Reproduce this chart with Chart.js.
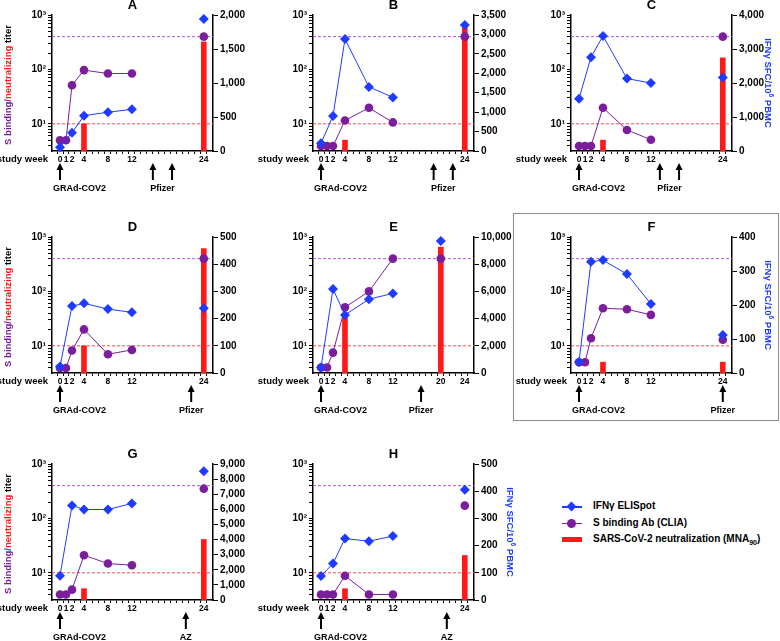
<!DOCTYPE html>
<html>
<head>
<meta charset="utf-8">
<script src="https://cdn.jsdelivr.net/npm/chart.js@4.4.1/dist/chart.umd.min.js"></script>
<style>
  body { margin: 0; background: #fff; }
  #figure { position: relative; width: 780px; height: 641px; overflow: hidden;
            font-family: 'Liberation Sans', Arial, sans-serif; }
  #figure canvas { position: absolute; }
  #boxF { position: absolute; left: 513px; top: 213px; width: 264px; height: 206px;
          border: 1px solid #8c8c8c; }
  #legend { position: absolute; left: 560px; top: 498px; font-weight: bold; font-size: 10px; color: #000; }
  #legend .row { position: relative; height: 16.5px; line-height: 16.5px; padding-left: 33px; white-space: nowrap; }
  #legend .sw { position: absolute; left: 2px; top: 8px; width: 20px; height: 1.5px; }
  #legend .mark { position: absolute; left: 6px; top: -3.5px; width: 7px; height: 7px; }
  #legend sub { font-size: 7px; }
</style>
</head>
<body>
<div id="figure">
  <div id="boxF"></div>
  <div id="legend">
    <div class="row"><span class="sw" style="background:#1f3bff"><span class="mark" style="background:#1f3bff;transform:rotate(45deg)"></span></span>IFNγ ELISpot</div>
    <div class="row"><span class="sw" style="background:#7b1e9c"><span class="mark" style="background:#7b1e9c;border-radius:50%;left:5px;top:-4px;width:9px;height:9px"></span></span>S binding Ab (CLIA)</div>
    <div class="row"><span class="sw" style="background:#ff1a1a;height:5px;top:6px"></span>SARS-CoV-2 neutralization (MNA<sub>90</sub>)</div>
  </div>
</div>
<script>
// Panel letters and study weeks
const panelLetters = ['A', 'B', 'C', 'D', 'E', 'F', 'G', 'H'];
const bindingWeeks = [0, 1, 2, 4, 8, 12, 24];
const bindingWeeksE = [0, 1, 2, 4, 8, 12, 20];
const ifnWeeks = [0, 2, 4, 8, 12, 24];
const ifnWeeksE = [0, 2, 4, 8, 12, 20];
const neutWeeks = [4, 24];
const neutWeeksE = [4, 20];
const weekLabels = [0, 1, 2, 4, 8, 12, 24];
const weekLabelsE = [0, 1, 2, 4, 8, 12, 20, 24];

// S binding Ab titers (left, log axis)
const bindingA = [5, 5, 51, 97, 84, 84, 400];
const bindingB = [3.9, 3.9, 3.9, 11.5, 19.7, 10.6, 400];
const bindingC = [3.9, 3.9, 3.9, 19.7, 7.7, 5.1, 400];
const bindingD = [3.9, 3.9, 8.2, 20, 7, 8.4, 400];
const bindingE = [4, 4, 7.5, 51, 100, 400, 400];
const bindingF = [5, 5, 13.8, 49, 47, 37, 12.9];
const bindingG = [4, 4, 4.9, 21, 14.8, 13.8, 352];
const bindingH = [4, 4, 4, 8.8, 4, 4, 172];

// IFNγ ELISpot, SFC/10^6 PBMC (right axis)
const ifnA = [54, 270, 520, 570, 613, 1940];
const ifnB = [200, 900, 2880, 1650, 1380, 3240];
const ifnC = [1540, 2760, 3385, 2130, 2000, 2160];
const ifnD = [24, 246, 256, 235, 223, 238];
const ifnE = [400, 6170, 4270, 5430, 5850, 9700];
const ifnF = [32, 327, 332, 291, 203, 112];
const ifnG = [1600, 6250, 5990, 5990, 6390, 8515];
const ifnH = [88, 134, 226, 216, 235, 405];

// Neutralization MNA90 titers (bars, left axis)
const neutA = [10, 320];
const neutB = [5, 610];
const neutC = [5, 163];
const neutD = [10, 612];
const neutE = [35, 650];
const neutF = [5, 5];
const neutG = [5.1, 41];
const neutH = [5.1, 20.8];

// Right axis ranges
const ifnAxisMax = [2000, 3500, 4000, 500, 10000, 400, 9000, 500];
const ifnAxisStep = [500, 500, 1000, 100, 1000, 100, 1000, 100];

// Booster doses
const boosterNames = ['Pfizer', 'Pfizer', 'Pfizer', 'Pfizer', 'Pfizer', 'Pfizer', 'AZ', 'AZ'];
const boosterWeeks = [[15.5, 18.7], [18.8, 22], [13.5, 16.7], [21.9], [16.7], [24], [21], [21]];

// Reference lines
const bindingULOQ = 400;
const neutCutoff = 10;

const allBinding = [bindingA, bindingB, bindingC, bindingD, bindingE, bindingF, bindingG, bindingH];
const allIfn = [ifnA, ifnB, ifnC, ifnD, ifnE, ifnF, ifnG, ifnH];
const allNeut = [neutA, neutB, neutC, neutD, neutE, neutF, neutG, neutH];

const BLUE = '#1f3bff';
const PURPLE = '#7b1e9c';
const RED = '#ff1a1a';
const FONT = "'Liberation Sans', Arial, sans-serif";

// Page layout of the grid
const colLeft = [0, 255, 512], colWidth = [258, 262, 268];
const rowTop = [0, 210, 420], rowHeight = [210, 210, 221];
const plotLeft = [52, 313, 571], plotTop = [15, 237, 464];
const PLOT_W = 161, PLOT_H = 136;

/**
 * Draw a dashed horizontal line across the plot area
 */
function drawDashed(ctx, area, y, color) {
    ctx.save();
    ctx.strokeStyle = color;
    ctx.lineWidth = 1;
    ctx.setLineDash([3, 2]);
    ctx.beginPath();
    ctx.moveTo(area.left, y);
    ctx.lineTo(area.right, y);
    ctx.stroke();
    ctx.restore();
}

/**
 * Draw an upward arrow marking a vaccine dose
 */
function drawArrow(ctx, x, top, bottom) {
    ctx.save();
    ctx.strokeStyle = '#000';
    ctx.fillStyle = '#000';
    ctx.lineWidth = 2;
    ctx.beginPath();
    ctx.moveTo(x, top + 5);
    ctx.lineTo(x, bottom);
    ctx.stroke();
    ctx.beginPath();
    ctx.moveTo(x, top);
    ctx.lineTo(x - 3.5, top + 7);
    ctx.lineTo(x + 3.5, top + 7);
    ctx.closePath();
    ctx.fill();
    ctx.restore();
}

/**
 * Draw rotated text made of coloured pieces, centred on (x, y)
 */
function drawRotated(ctx, pieces, x, y, angle) {
    ctx.save();
    ctx.translate(x, y);
    ctx.rotate(angle);
    let total = 0;
    pieces.forEach(p => { ctx.font = p.font; total += ctx.measureText(p.text).width; });
    let pos = -total / 2;
    ctx.textBaseline = 'middle';
    ctx.textAlign = 'left';
    pieces.forEach(p => {
        ctx.font = p.font;
        ctx.fillStyle = p.color;
        ctx.fillText(p.text, pos, p.dy || 0);
        pos += ctx.measureText(p.text).width;
    });
    ctx.restore();
}

const panelDecor = {
    id: 'panelDecor',
    beforeDatasetsDraw(chart, args, opts) {
        const { ctx, chartArea, scales } = chart;
        drawDashed(ctx, chartArea, scales.y.getPixelForValue(bindingULOQ), '#b054dc');
        drawDashed(ctx, chartArea, scales.y.getPixelForValue(neutCutoff), '#ff4a4a');
    },
    afterDraw(chart, args, opts) {
        const { ctx, chartArea, scales } = chart;
        const i = opts.index;
        const midX = (chartArea.left + chartArea.right) / 2;
        const midY = (chartArea.top + chartArea.bottom) / 2;

        ctx.save();
        ctx.fillStyle = '#000';
        ctx.textBaseline = 'middle';

        // Panel title
        ctx.font = 'bold 13px ' + FONT;
        ctx.textAlign = 'center';
        ctx.fillText(panelLetters[i], midX, chartArea.top - 10);

        // "study week" axis caption
        ctx.font = 'bold 9.5px ' + FONT;
        ctx.textAlign = 'right';
        ctx.fillText('study week', chartArea.left - 4, chartArea.bottom + 8);

        // Dose arrows
        const top = chartArea.bottom + 12, bottom = chartArea.bottom + 29;
        const x0 = scales.x.getPixelForValue(0);
        drawArrow(ctx, x0, top, bottom);
        ctx.font = 'bold 9px ' + FONT;
        ctx.textAlign = 'left';
        ctx.fillText('GRAd-COV2', x0 - 7, chartArea.bottom + 38);

        const weeks = boosterWeeks[i];
        let sum = 0;
        weeks.forEach(w => {
            const x = scales.x.getPixelForValue(w);
            sum += x;
            drawArrow(ctx, x, top, bottom);
        });
        ctx.textAlign = 'center';
        ctx.fillText(boosterNames[i], sum / weeks.length, chartArea.bottom + 38);
        ctx.restore();

        // Left axis title on first column
        if (i % 3 === 0) {
            const f = 'bold 9.5px ' + FONT;
            drawRotated(ctx, [
                { text: 'S binding/', color: PURPLE, font: f },
                { text: 'neutralizing', color: RED, font: f },
                { text: ' titer', color: '#000', font: f }
            ], 8, midY + 2, -Math.PI / 2);
        }
        // Right axis title on last column and panel H
        if (i === 2 || i === 5 || i === 7) {
            const f = 'bold 9.5px ' + FONT;
            drawRotated(ctx, [
                { text: 'IFNγ SFC/10', color: BLUE, font: f },
                { text: '6', color: BLUE, font: 'bold 6.5px ' + FONT, dy: -3 },
                { text: ' PBMC', color: BLUE, font: f }
            ], chartArea.right + 36, midY, Math.PI / 2);
        }
    }
};

/**
 * Build one panel chart
 */
function makePanel(i) {
    const row = Math.floor(i / 3), col = i % 3;
    const isE = panelLetters[i] === 'E';
    const bWeeks = isE ? bindingWeeksE : bindingWeeks;
    const iWeeks = isE ? ifnWeeksE : ifnWeeks;
    const nWeeks = isE ? neutWeeksE : neutWeeks;
    const labels = isE ? weekLabelsE : weekLabels;

    const canvas = document.createElement('canvas');
    canvas.width = colWidth[col];
    canvas.height = rowHeight[row];
    canvas.style.left = colLeft[col] + 'px';
    canvas.style.top = rowTop[row] + 'px';
    canvas.style.width = colWidth[col] + 'px';
    canvas.style.height = rowHeight[row] + 'px';
    document.getElementById('figure').appendChild(canvas);

    const leftW = plotLeft[col] - colLeft[col];
    const rightW = colLeft[col] + colWidth[col] - (plotLeft[col] + PLOT_W);
    const bottomH = rowTop[row] + rowHeight[row] - (plotTop[row] + PLOT_H);
    const tickFont = { family: FONT, size: 10, weight: 'bold' };
    const weekFont = { family: FONT, size: 8.5, weight: 'bold' };
    const hideAfter12 = color => ctx => ctx.p1.parsed.x > 12 ? 'rgba(0,0,0,0)' : color;
    const allWeeks = [];
    for (let w = 0; w <= 24; w++) allWeeks.push(w);
    const logTicks = [];
    [1, 10, 100].forEach(d => { for (let m = 1; m <= 9; m++) if (m * d >= 4) logTicks.push(m * d); });
    logTicks.push(1000);

    return new Chart(canvas, {
        type: 'line',
        data: {
            datasets: [{
                label: 'IFNγ ELISpot',
                yAxisID: 'yR',
                data: iWeeks.map((w, k) => ({ x: w, y: allIfn[i][k] })),
                borderColor: BLUE,
                backgroundColor: BLUE,
                borderWidth: 1,
                pointStyle: 'rectRot',
                pointRadius: 5,
                pointBorderWidth: 0,
                segment: { borderColor: hideAfter12(BLUE) },
                clip: false,
                order: 1
            }, {
                label: 'S binding Ab (CLIA)',
                yAxisID: 'y',
                data: bWeeks.map((w, k) => ({ x: w, y: allBinding[i][k] })),
                borderColor: PURPLE,
                backgroundColor: PURPLE,
                borderWidth: 1,
                pointStyle: 'circle',
                pointRadius: 4.3,
                pointBorderWidth: 0,
                segment: { borderColor: hideAfter12(PURPLE) },
                clip: false,
                order: 2
            }, {
                type: 'bar',
                label: 'SARS-CoV-2 neutralization (MNA90)',
                yAxisID: 'y',
                data: nWeeks.map((w, k) => ({ x: w, y: allNeut[i][k] })),
                backgroundColor: RED,
                barThickness: 5,
                order: 3
            }]
        },
        options: {
            responsive: false,
            animation: false,
            events: [],
            layout: { padding: { top: plotTop[row] - rowTop[row], left: 0, right: 0, bottom: 0 } },
            plugins: {
                legend: { display: false },
                tooltip: { enabled: false },
                panelDecor: { index: i }
            },
            scales: {
                x: {
                    type: 'linear',
                    min: -0.8,
                    max: 25,
                    afterBuildTicks: s => { s.ticks = allWeeks.map(v => ({ value: v })); },
                    afterFit: s => { s.height = bottomH; },
                    ticks: {
                        autoSkip: false, maxRotation: 0, padding: 1, color: '#000', font: weekFont,
                        callback: v => labels.includes(v) ? String(v) : ''
                    },
                    grid: { drawOnChartArea: false, tickLength: 3, color: '#000' },
                    border: { color: '#000', width: 1.5 }
                },
                y: {
                    type: 'logarithmic',
                    position: 'left',
                    min: Math.pow(10, 0.5),
                    max: 1000,
                    afterBuildTicks: s => { s.ticks = logTicks.map(v => ({ value: v })); },
                    afterFit: s => { s.width = leftW; },
                    ticks: {
                        autoSkip: false, padding: 2, color: '#000', font: tickFont,
                        callback: v => ({ 10: '10¹', 100: '10²', 1000: '10³' })[v] || ''
                    },
                    grid: { drawOnChartArea: false, tickLength: 4, color: '#000' },
                    border: { color: '#000', width: 1.5 }
                },
                yR: {
                    type: 'linear',
                    position: 'right',
                    min: 0,
                    max: ifnAxisMax[i],
                    afterFit: s => { s.width = rightW; },
                    ticks: {
                        stepSize: ifnAxisStep[i], padding: 2, color: '#000', font: tickFont,
                        callback: v => v.toLocaleString('en-US')
                    },
                    grid: { drawOnChartArea: false, tickLength: 5, color: '#000' },
                    border: { color: '#000', width: 1.5 }
                }
            }
        },
        plugins: [panelDecor]
    });
}

panelLetters.forEach((p, i) => makePanel(i));
</script>
</body>
</html>
